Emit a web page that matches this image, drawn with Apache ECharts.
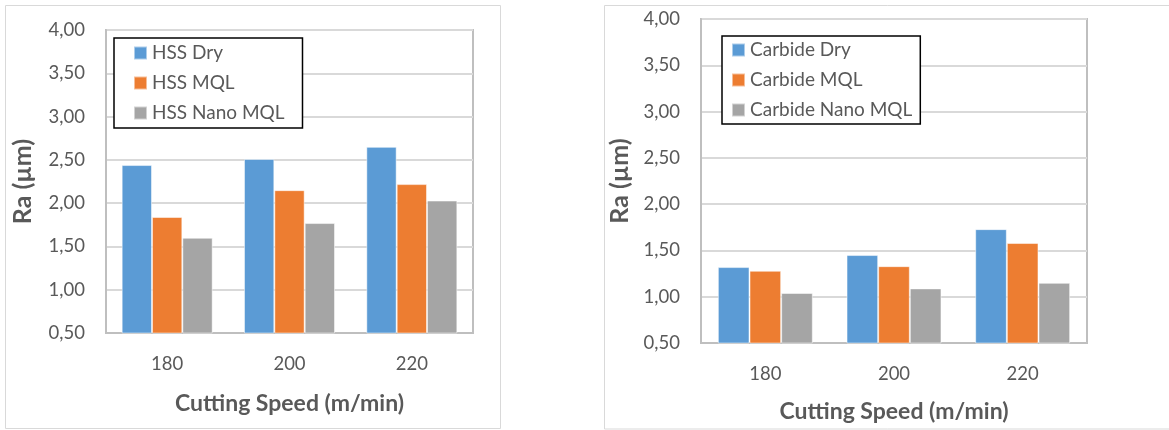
<!DOCTYPE html>
<html>
<head>
<meta charset="utf-8">
<script src="https://cdn.jsdelivr.net/npm/echarts@6/dist/echarts.min.js"></script>
<style>
html,body{margin:0;padding:0;background:#fff;}
#c{width:1169px;height:430px;}
</style>
</head>
<body>
<div id="c"></div>
<script>
const categories = ['180', '200', '220'];
const yTicks = [0.5, 1.0, 1.5, 2.0, 2.5, 3.0, 3.5, 4.0];

const hssNames = ['HSS Dry', 'HSS MQL', 'HSS Nano MQL'];
const hssDry = [2.44, 2.51, 2.65];
const hssMQL = [1.84, 2.15, 2.22];
const hssNano = [1.60, 1.77, 2.03];

const carbNames = ['Carbide Dry', 'Carbide MQL', 'Carbide Nano MQL'];
const carbDry = [1.32, 1.45, 1.73];
const carbMQL = [1.28, 1.33, 1.58];
const carbNano = [1.04, 1.09, 1.15];

const colors = ['#5B9BD5', '#ED7D31', '#A5A5A5'];
const FONT = 'Lato';
const TXT = '#595959';

const chart = echarts.init(document.getElementById('c'), null, {renderer: 'canvas'});

function fmt(v) { return v.toFixed(2).replace('.', ','); }

function xAxis(gi, margin, nameGap) {
  return {
    type: 'category', gridIndex: gi, data: categories,
    axisLine: {show: true, lineStyle: {color: '#BFBFBF', width: 2}},
    axisTick: {show: false},
    axisLabel: {color: TXT, fontFamily: FONT, fontSize: 18.5, margin: margin},
    name: 'Cutting Speed (m/min)', nameLocation: 'middle', nameGap: nameGap,
    nameTextStyle: {color: TXT, fontFamily: FONT, fontSize: 23, fontWeight: 'bold'}
  };
}
function yAxis(gi, margin, nameGap) {
  return {
    type: 'value', gridIndex: gi, min: yTicks[0], max: yTicks[yTicks.length - 1], interval: 0.5,
    axisLine: {show: true, lineStyle: {color: '#BFBFBF', width: 2}},
    axisTick: {show: false},
    splitLine: {show: true, lineStyle: {color: '#D9D9D9', width: 2}},
    axisLabel: {color: TXT, fontFamily: FONT, fontSize: 18.5, margin: margin, formatter: fmt},
    name: 'Ra (µm)', nameLocation: 'middle', nameGap: nameGap, nameRotate: 90,
    nameTextStyle: {color: TXT, fontFamily: FONT, fontSize: 25, fontWeight: 'bold'}
  };
}
function bars(names, data, gi, bw) {
  return data.map((d, i) => ({
    name: names[i], type: 'bar', xAxisIndex: gi, yAxisIndex: gi, data: d,
    barWidth: bw, barGap: '0%',
    itemStyle: {color: colors[i], borderColor: 'rgba(255,255,255,0.5)', borderWidth: 1},
    emphasis: {disabled: true}
  }));
}
function legend(names, left, top, padding) {
  return {
    data: names, orient: 'vertical', left: left, top: top,
    itemWidth: 13, itemHeight: 13, itemGap: 10, padding: padding,
    borderColor: '#000', borderWidth: 1.5, backgroundColor: '#fff',
    icon: 'rect', selectedMode: false,
    textStyle: {color: TXT, fontFamily: FONT, fontSize: 19, lineHeight: 20, padding: [0, 0, 0, 0]}
  };
}

chart.setOption({
  animation: false,
  color: colors,
  grid: [
    {left: 106, top: 30, width: 367, height: 303, show: true, borderColor: '#BFBFBF', borderWidth: 2},
    {left: 701, top: 19, width: 386, height: 324, show: true, borderColor: '#BFBFBF', borderWidth: 2}
  ],
  xAxis: [xAxis(0, 22, 59), xAxis(1, 22, 57)],
  yAxis: [yAxis(0, 21, 71), yAxis(1, 21, 69)],
  legend: [
    legend(hssNames, 114, 38, [5, 18, 5, 19]),
    legend(carbNames, 722, 36, [4, 8, 4, 9])
  ],
  graphic: [
    {type: 'rect', shape: {x: 5.5, y: 5.5, width: 495, height: 423}, style: {fill: 'none', stroke: '#D9D9D9', lineWidth: 1}, z: -10},
    {type: 'rect', shape: {x: 604.5, y: 5.5, width: 600, height: 423.5}, style: {fill: 'none', stroke: '#D9D9D9', lineWidth: 1}, z: -10}
  ],
  series: bars(hssNames, [hssDry, hssMQL, hssNano], 0, '24.8%')
    .concat(bars(carbNames, [carbDry, carbMQL, carbNano], 1, '24.6%'))
});
</script>
</body>
</html>
